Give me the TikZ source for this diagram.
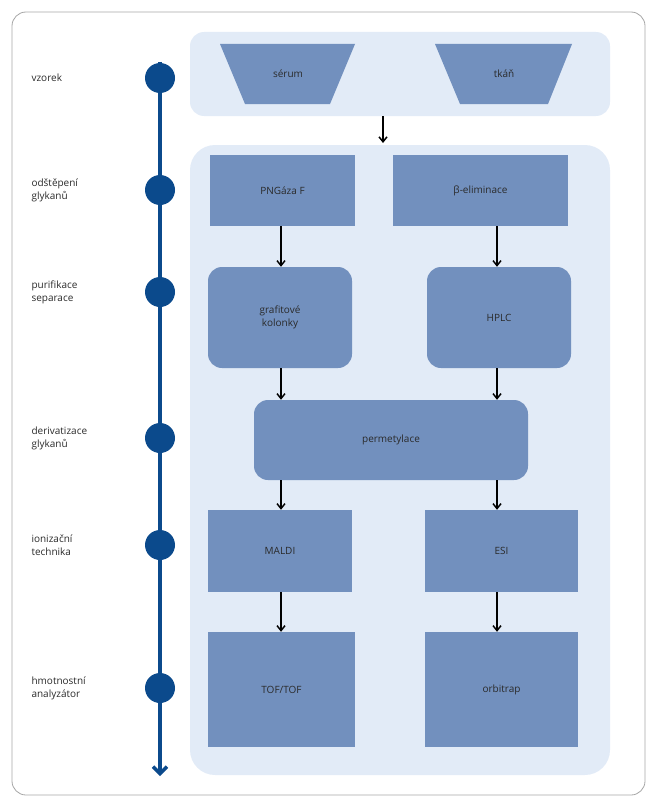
\documentclass[tikz,border=0pt]{standalone}
\usepackage{fontspec}
\setmainfont{Open Sans}
\usetikzlibrary{arrows.meta}
\begin{document}
\begin{tikzpicture}[x=1pt,y=-1pt,
 panel/.style={fill=panelc,draw=none,rounded corners=14pt},
 box/.style={fill=boxc,draw=none,font=\fontsize{10}{13}\selectfont,text=txt,align=center},
 rbox/.style={box,rounded corners=14pt},
 arr/.style={-{Straight Barb[length=5pt,width=8pt]},line width=1.5pt,black},
 lab/.style={anchor=west,font=\fontsize{10}{13}\selectfont,text=txt,align=left},
 dot/.style={circle,fill=dblue,minimum size=30pt,inner sep=0pt}]
\definecolor{panelc}{HTML}{E2EBF7}
\definecolor{boxc}{HTML}{7290BE}
\definecolor{dblue}{HTML}{0B4A8C}
\definecolor{txt}{HTML}{2A2A2A}
\useasboundingbox (0,0) rectangle (657,800);
\draw[gray!70,rounded corners=14pt,line width=0.8pt] (12,12) rectangle (645,795);
\fill[panel] (190,32) rectangle (610,116);
\fill[panel,rounded corners=25pt] (190,145) rectangle (610,775);
\fill[boxc] (220,44) -- (355,44) -- (330,104) -- (245,104) -- cycle;
\node[box,fill=none] (s) at (288,74) {sérum};
\fill[boxc] (435,44) -- (572,44) -- (548,104) -- (460,104) -- cycle;
\node[box,fill=none] (t) at (504,74) {tkáň};
\coordinate (a1) at (383,116); \coordinate (a2) at (383,143);
\draw[arr] (a1) -- (a2);
\node[box,minimum width=145pt,minimum height=71pt] (png) at (282.5,190.5) {PNGáza F};
\node[box,minimum width=175pt,minimum height=71pt] (be) at (480.5,190.5) {β-eliminace};
\node[rbox,minimum width=144pt,minimum height=101pt] (gk) at (280,317.5) {grafitové\\kolonky};
\node[rbox,minimum width=144pt,minimum height=101pt] (hp) at (499,317.5) {HPLC};
\node[rbox,minimum width=274pt,minimum height=80pt] (pm) at (391,440) {permetylace};
\node[box,minimum width=144pt,minimum height=82pt] (ma) at (280,551) {MALDI};
\node[box,minimum width=153pt,minimum height=82pt] (es) at (501.5,551) {ESI};
\node[box,minimum width=147pt,minimum height=115pt] (tof) at (281.5,689.5) {TOF/TOF};
\node[box,minimum width=153pt,minimum height=115pt] (orb) at (501.5,689.5) {orbitrap};
\draw[arr] (png.south-|281,0) -- (gk.north-|281,0);
\draw[arr] (be.south-|497,0) -- (hp.north-|497,0);
\draw[arr] (gk.south-|281,0) -- (pm.north-|281,0);
\draw[arr] (hp.south-|497,0) -- (pm.north-|497,0);
\draw[arr] (pm.south-|281,0) -- (ma.north-|281,0);
\draw[arr] (pm.south-|497,0) -- (es.north-|497,0);
\draw[arr] (ma.south-|281,0) -- (tof.north-|281,0);
\draw[arr] (es.south-|497,0) -- (orb.north-|497,0);
\coordinate (t0) at (160,62); \coordinate (t1) at (160,776);
\draw[dblue,line width=3.5pt,-{Straight Barb[length=7pt,width=14pt]}] (t0) -- (t1);
\foreach \y/\n/\t in {78/d1/vzorek,190/d2/{odštěpení\\glykanů},292/d3/{purifikace\\separace},438/d4/{derivatizace\\glykanů},545/d5/{ionizační\\technika},688/d6/{hmotnostní\\analyzátor}}{
 \node[dot] (\n) at (160,\y) {};
 \node[lab] (l\n) at (28,\y) {\t};
}
\end{tikzpicture}
\end{document}
